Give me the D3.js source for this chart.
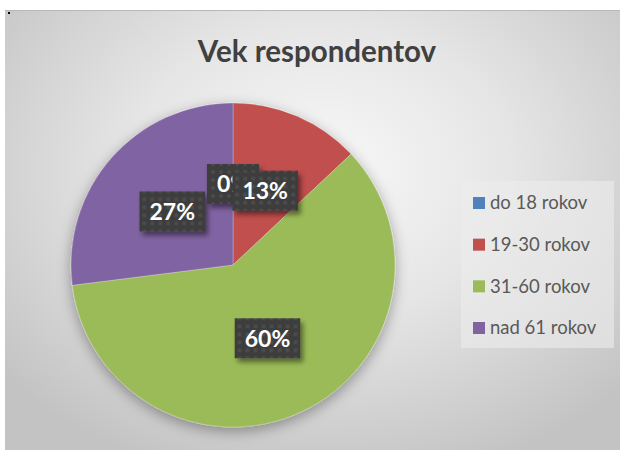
<!DOCTYPE html>
<html><head><meta charset="utf-8">
<script src="https://cdn.jsdelivr.net/npm/d3@7"></script>
<style>html,body{margin:0;padding:0;background:#fff;}svg{display:block;}</style>
</head><body>
<script>
const title = "Vek respondentov";
const categories = ["do 18 rokov", "19-30 rokov", "31-60 rokov", "nad 61 rokov"];
const values = [0, 13, 60, 27];
const labels = ["0%", "13%", "60%", "27%"];
const colors = ["#4f81bd", "#c0504d", "#9bbb59", "#8064a2"];

const W = 620, H = 450;
const svg = d3.select("body").append("svg").attr("width", W).attr("height", H);
const defs = svg.append("defs");

const rg = defs.append("radialGradient").attr("id", "bg")
  .attr("gradientUnits", "userSpaceOnUse")
  .attr("cx", 320).attr("cy", 170).attr("r", 320)
  .attr("gradientTransform", "translate(320,170) scale(1.3,1) translate(-320,-170)");
rg.append("stop").attr("offset", 0).attr("stop-color", "#f8f8f8");
rg.append("stop").attr("offset", 0.45).attr("stop-color", "#e6e6e6");
rg.append("stop").attr("offset", 1).attr("stop-color", "#c3c3c3");

const pat = defs.append("pattern").attr("id", "dots").attr("patternUnits", "userSpaceOnUse")
  .attr("width", 8).attr("height", 8);
pat.append("rect").attr("width", 8).attr("height", 8).attr("fill", "#3e3e3e");
pat.append("circle").attr("cx", 4).attr("cy", 4).attr("r", 2).attr("fill", "#4c4c4c");

const sh = defs.append("filter").attr("id", "boxsh").attr("x", "-20%").attr("y", "-20%").attr("width", "150%").attr("height", "160%");
sh.append("feDropShadow").attr("dx", 3).attr("dy", 4).attr("stdDeviation", 2.5).attr("flood-color", "#000").attr("flood-opacity", 0.45);
const psh = defs.append("filter").attr("id", "piesh").attr("x", "-20%").attr("y", "-20%").attr("width", "140%").attr("height", "140%");
psh.append("feDropShadow").attr("dx", 0).attr("dy", 4).attr("stdDeviation", 7).attr("flood-color", "#000").attr("flood-opacity", 0.35);

// chart area
svg.append("rect").attr("x", 5).attr("y", 10).attr("width", W - 5).attr("height", H - 10).attr("fill", "url(#bg)");
svg.append("line").attr("x1", 5).attr("x2", W).attr("y1", 10.5).attr("y2", 10.5).attr("stroke", "#b8b8b8").attr("stroke-width", 1);
svg.append("rect").attr("x", 8).attr("y", 12).attr("width", 2).attr("height", 2).attr("fill", "#000");

svg.append("text").attr("x", 317).attr("y", 62).attr("text-anchor", "middle")
  .attr("font-family", "Lato, 'Open Sans', sans-serif").attr("font-weight", "bold")
  .attr("font-size", 29.5).attr("fill", "#404040").text(title);

const cx = 233, cy = 265, R = 162;
const pie = d3.pie().sort(null).value(d => d)(values);
const arc = d3.arc().innerRadius(0).outerRadius(R);
const g = svg.append("g").attr("transform", `translate(${cx},${cy})`);
g.append("g").attr("filter", "url(#piesh)").selectAll("path").data(pie).join("path")
  .attr("d", arc).attr("fill", (d, i) => colors[i])
  .attr("stroke", "#ffffff").attr("stroke-opacity", 0.4).attr("stroke-width", 0.6);

// labels
const order = [3, 0, 1, 2];
order.forEach(i => {
  const d = pie[i];
  const [x, y] = arc.centroid(d);
  const lg = g.append("g").attr("transform", `translate(${x},${y})`);
  const t = lg.append("text").attr("text-anchor", "middle").attr("dy", "0.36em")
    .attr("font-family", "Lato, 'Open Sans', sans-serif").attr("font-weight", "bold")
    .attr("font-size", 23).attr("fill", "#fff").text(labels[i]);
  const tw = t.node().getComputedTextLength();
  const bw = tw + 20, bh = 40;
  lg.insert("rect", "text").attr("x", -bw / 2).attr("y", -bh / 2).attr("width", bw).attr("height", bh)
    .attr("fill", "url(#dots)").attr("filter", "url(#boxsh)");
});

// legend
const leg = svg.append("g");
leg.append("rect").attr("x", 461).attr("y", 181).attr("width", 153).attr("height", 167)
  .attr("fill", "#ededed").attr("fill-opacity", 0.6);
const ly = d3.scalePoint().domain(categories).range([203, 328]);
categories.forEach((c, i) => {
  leg.append("rect").attr("x", 473).attr("y", ly(c) - 6).attr("width", 12).attr("height", 12).attr("fill", colors[i]);
  leg.append("text").attr("x", 490).attr("y", ly(c)).attr("dy", "0.35em")
    .attr("font-family", "Lato, 'Open Sans', sans-serif").attr("font-size", 18.5)
    .attr("fill", "#595959").text(c);
});
</script>
</body></html>
